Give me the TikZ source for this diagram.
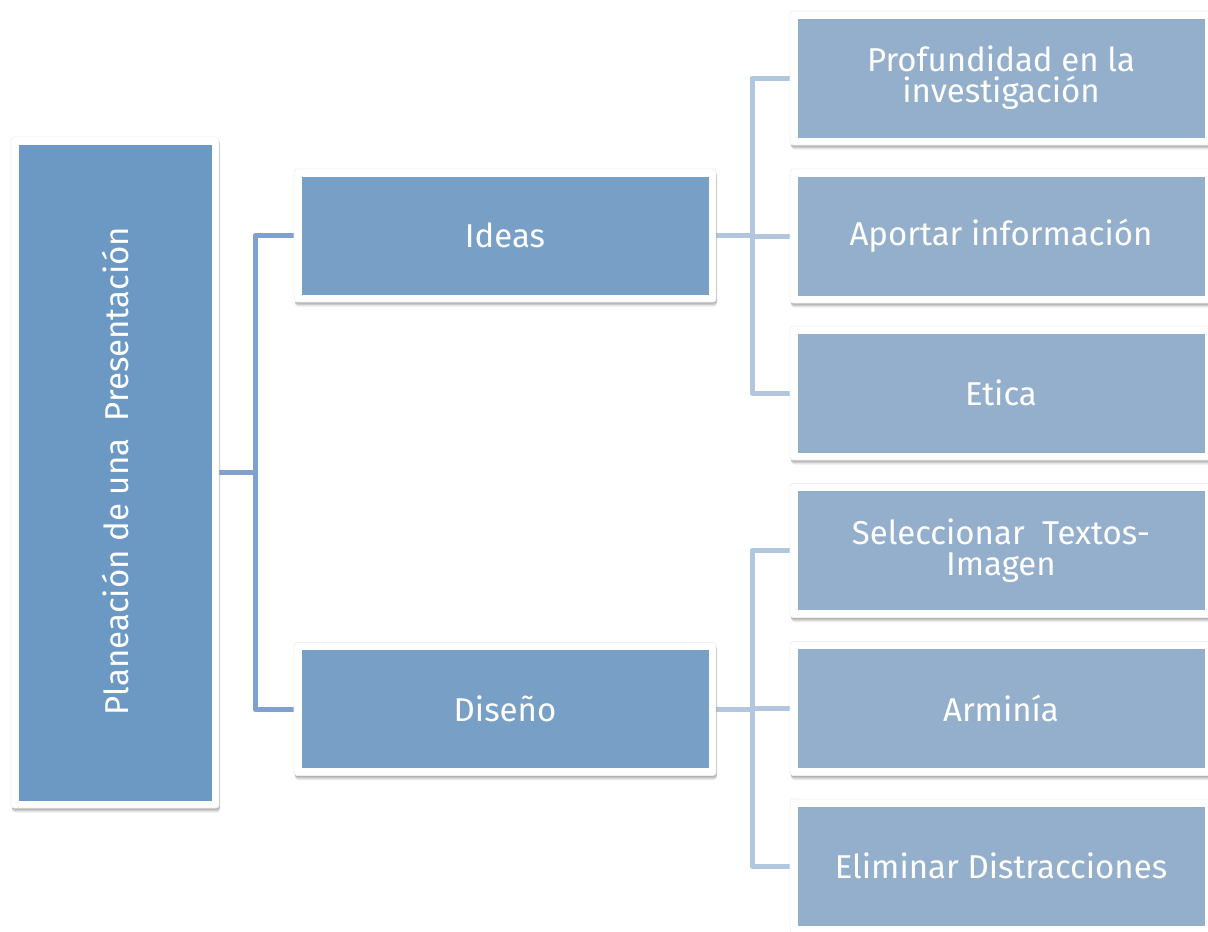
\documentclass[tikz,border=0pt]{standalone}
\usepackage{fontspec}
\setmainfont{Fira Sans}
\usetikzlibrary{shadows,backgrounds}
\definecolor{rootfill}{HTML}{6C99C4}
\definecolor{midfill}{HTML}{789FC5}
\definecolor{leaffill}{HTML}{94AFCB}
\definecolor{lineA}{HTML}{7FA1CF}
\definecolor{lineB}{HTML}{B3C6E0}
\begin{document}
\begin{tikzpicture}[x=1pt,y=-1pt,
  box/.style={fill=white,draw=black!6,line width=0.8pt,rounded corners=3pt,inner sep=0pt,outer sep=0pt,text=white,align=center,
    font=\fontsize{33}{31}\selectfont,
    general shadow={shadow xshift=1pt,shadow yshift=-4.5pt,fill=black,opacity=0.08},
    general shadow={shadow xshift=1pt,shadow yshift=-3pt,fill=black,opacity=0.14},
    general shadow={shadow xshift=0.5pt,shadow yshift=-1.5pt,fill=black,opacity=0.12},
    path picture={\fill[#1,sharp corners] ([shift={(7.5pt,7.5pt)}]path picture bounding box.south west) rectangle ([shift={(-7.5pt,-7.5pt)}]path picture bounding box.north east);}},
  rootbox/.style={box=rootfill,minimum width=208pt,minimum height=671pt},
  midbox/.style={box=midfill,minimum width=422pt,minimum height=133pt},
  leafbox/.style={box=leaffill,minimum width=422pt,minimum height=134pt},
  linkA/.style={draw=lineA,line width=5pt,line join=round},
  linkB/.style={draw=lineB,line width=5pt,line join=round}]
\useasboundingbox (0,0) rectangle (1208,932);
\node[rootbox] (root) at (115,472.5) {};
\node[text=white,font=\fontsize{33}{31}\selectfont,rotate=90] (roottext) at (115,471) {Planeación de una\ \ Presentación};
\node[midbox] (ideas) at (505,235.5) {Ideas};
\node[midbox] (diseno) at (505,709) {Diseño};
\node[leafbox] (prof) at (1001,78) {Profundidad en la\\investigación};
\node[leafbox] (aport) at (1001,236) {Aportar información};
\node[leafbox] (etica) at (1001,393) {Etica};
\node[leafbox] (selec) at (1001,550.5) {Seleccionar\ \ Textos-\\Imagen};
\node[leafbox] (armin) at (1001,708.5) {Arminía};
\node[leafbox] (elim) at (1001,866) {Eliminar Distracciones};
\coordinate (j1) at (255,0);
\coordinate (j2) at (752,0);
\begin{scope}[on background layer]
\draw[linkA] (root.east) -- (root.east -| j1);
\draw[linkA] (ideas.west) -- (ideas.west -| j1) -- (diseno.west -| j1) -- (diseno.west);
\draw[linkB] (ideas.east) -- (ideas.east -| j2);
\draw[linkB] (prof.west) -- (prof.west -| j2) -- (etica.west -| j2) -- (etica.west);
\draw[linkB] (aport.west) -- (aport.west -| j2);
\draw[linkB] (diseno.east) -- (diseno.east -| j2);
\draw[linkB] (selec.west) -- (selec.west -| j2) -- (elim.west -| j2) -- (elim.west);
\draw[linkB] (armin.west) -- (armin.west -| j2);
\end{scope}
\end{tikzpicture}
\end{document}
